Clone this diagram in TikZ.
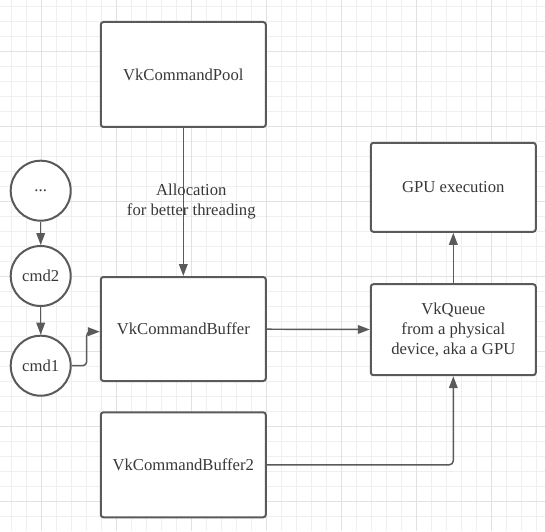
\documentclass[tikz,border=0pt]{standalone}
\usepackage{fontspec}
\setmainfont{Liberation Serif}
\usetikzlibrary{arrows.meta}
\definecolor{linegray}{HTML}{5A5A5A}
\definecolor{textgray}{HTML}{383838}
\definecolor{gridminor}{HTML}{EFEFEF}
\definecolor{gridmajor}{HTML}{E2E2E2}
\begin{document}
\begin{tikzpicture}[x=0.75pt,y=-0.75pt,
    font=\fontsize{12.5}{15}\selectfont, text=textgray,
    box/.style={draw=linegray,line width=1.5pt,fill=white,rounded corners=2pt,
      minimum width=123.75pt,align=center,inner sep=0pt},
    cmd/.style={circle,draw=linegray,line width=1.5pt,fill=white,
      minimum size=45pt,inner sep=0pt},
    conn/.style={draw=linegray,line width=1.1pt,-{Triangle[length=9pt,width=6.5pt]}}]

      \useasboundingbox (0,0) rectangle (545,531);
      \fill[white] (0,0) rectangle (545,531);
      \foreach \gx in {11.7,26.7,...,545} \draw[gridminor,line width=0.75pt] (\gx,0) -- (\gx,531);
      \foreach \gy in {6.7,21.7,...,531} \draw[gridminor,line width=0.75pt] (0,\gy) -- (545,\gy);
      \foreach \gx in {41.7,116.7,...,545} \draw[gridmajor,line width=0.75pt] (\gx,0) -- (\gx,531);
      \foreach \gy in {51.7,126.7,...,531} \draw[gridmajor,line width=0.75pt] (0,\gy) -- (545,\gy);

      \begin{scope}[every node/.style={box}]
        \node[minimum height=78.75pt] (1) at (183.3,74.5)  {VkCommandPool};
        \node[minimum height=78pt]    (2) at (183.3,329)   {VkCommandBuffer};
        \node[minimum height=78.75pt] (3) at (183.3,464.8) {VkCommandBuffer2};
        \node[minimum height=66.75pt] (4) at (453.3,187.3) {GPU execution};
        \node[minimum height=68.25pt] (5) at (453.3,329.7) {VkQueue\\from a physical\\device, aka a GPU};
      \end{scope}

      \begin{scope}[every node/.style={cmd}]
        \node (6) at (40.7,190.7) {...};
        \node (7) at (40.7,276)   {cmd2};
        \node (8) at (40.7,365.7) {cmd1};
      \end{scope}

      \begin{scope}[every edge/.style={conn}]
        \path (1) edge node[xshift=6pt,align=center] {Allocation\\for better threading} (2);
        \path (2) edge (5);
        \path (5) edge (4);
        \path (6) edge (7);
        \path (7) edge (8);
      \end{scope}

      \draw[conn,rounded corners=3pt] (8.east) -- ++(15,0) |- ([yshift=-2pt]2.west);
      \draw[conn,rounded corners=3pt] (3.east) -| (5.south);

    \end{tikzpicture}
\end{document}
